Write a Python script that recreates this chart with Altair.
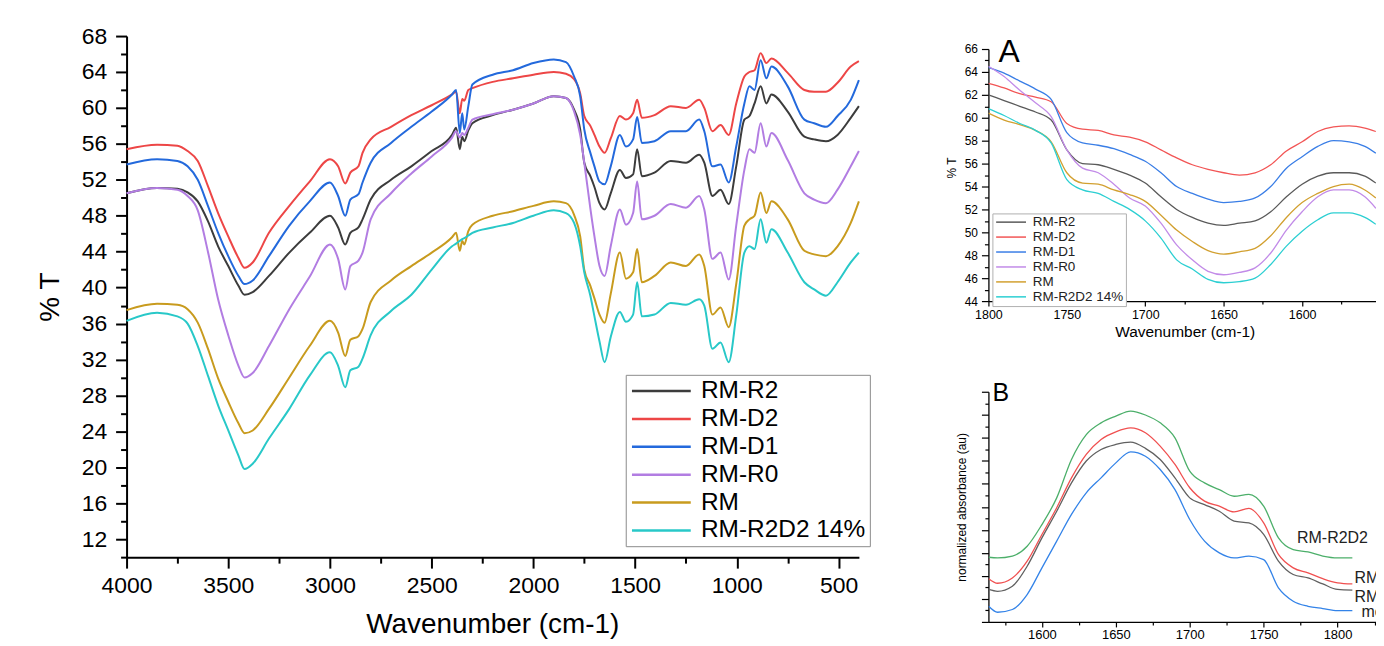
import altair as alt
import pandas as pd

# ---------------- main FTIR spectra ----------------
ORDER = ["RM-R2", "RM-D2", "RM-D1", "RM-R0", "RM", "RM-R2D2 14%"]
COLORS_MAIN = ["#3c3c3c", "#ed4646", "#2369dc", "#b27de2", "#c89b1e", "#28c8c8"]

WN = [4000, 3850, 3750, 3700, 3650, 3600, 3550, 3500, 3450, 3420, 3380, 3300, 3200, 3100,
      3000, 2960, 2925, 2900, 2860, 2840, 2800, 2700, 2600, 2500, 2400, 2380, 2362, 2350,
      2340, 2320, 2300, 2200, 2100, 2000, 1900, 1840, 1800, 1770, 1750, 1720, 1700, 1675,
      1650, 1620, 1575, 1545, 1510, 1490, 1467, 1405, 1325, 1250, 1185, 1160, 1120, 1080,
      1040, 1003, 963, 938, 913, 883, 855, 830, 750, 668, 620, 562, 505, 440, 400]

RM_R2 = [50.5, 51.1, 51.0, 50.6, 49.6, 47.4, 44.6, 42.4, 40.2, 39.2, 39.5, 41.3, 43.9, 46.1,
         48.0, 46.7, 44.8, 46.1, 46.7, 47.6, 49.8, 52.0, 53.5, 55.2, 57.0, 57.8, 55.4, 56.8,
         56.3, 57.5, 58.3, 59.2, 59.8, 60.5, 61.3, 61.1, 59.8, 57.6, 53.9, 52.4, 51.2, 49.4,
         48.7, 50.5, 53.1, 52.2, 52.6, 55.4, 52.4, 52.8, 54.1, 53.9, 54.8, 53.9, 50.2, 50.9,
         49.3, 53.5, 58.7, 59.1, 60.5, 62.4, 60.5, 61.5, 59.6, 56.8, 56.5, 56.3, 57.0, 58.9, 60.2]
RM_D2 = [55.4, 55.9, 55.8, 55.2, 54.1, 51.3, 48.3, 45.7, 43.3, 42.2, 42.8, 46.1, 49.1, 51.8,
         54.3, 53.5, 51.6, 52.8, 53.5, 55.0, 56.5, 57.9, 59.2, 60.3, 61.5, 61.8, 59.4, 61.0,
         60.8, 62.0, 62.2, 62.9, 63.3, 63.7, 64.0, 63.8, 63.2, 61.6, 59.1, 58.0, 57.0, 55.7,
         55.0, 56.6, 59.1, 58.7, 59.4, 60.9, 58.9, 59.2, 60.2, 60.0, 60.9, 60.0, 57.4, 58.1,
         57.0, 60.5, 63.5, 64.0, 64.2, 66.1, 65.0, 65.5, 63.9, 62.0, 61.8, 61.8, 62.8, 64.6, 65.2]
RM_D1 = [53.7, 54.3, 54.1, 53.5, 52.0, 49.1, 46.1, 43.5, 41.3, 40.4, 40.8, 43.5, 46.9, 49.6,
         51.7, 50.2, 48.0, 49.8, 50.4, 51.7, 53.9, 56.1, 57.9, 59.6, 61.5, 62.0, 57.2, 59.4,
         57.6, 60.2, 62.6, 63.7, 64.2, 65.0, 65.4, 65.1, 63.5, 61.3, 57.6, 55.0, 53.5, 51.8,
         51.5, 53.5, 57.0, 55.7, 56.5, 59.0, 56.1, 56.3, 57.4, 57.4, 58.7, 57.4, 53.5, 53.7,
         51.7, 55.7, 60.5, 62.4, 62.0, 65.3, 63.3, 64.6, 62.4, 58.7, 58.3, 57.9, 59.1, 60.9, 63.1]
RM_R0 = [50.5, 51.1, 50.9, 50.2, 48.6, 44.0, 38.7, 34.7, 31.3, 30.0, 30.5, 33.5, 37.6, 41.2,
         44.8, 43.2, 39.8, 42.4, 43.0, 43.9, 47.6, 50.5, 52.7, 54.6, 56.7, 57.4, 56.7, 57.2,
         57.0, 57.8, 58.7, 59.3, 59.8, 60.5, 61.3, 61.1, 59.6, 57.0, 53.9, 48.8, 45.7, 42.4,
         41.3, 44.6, 48.7, 47.0, 48.3, 51.8, 47.6, 48.0, 49.3, 48.9, 50.2, 48.7, 43.2, 43.9,
         40.9, 46.9, 53.1, 55.4, 55.0, 58.3, 55.7, 57.2, 54.2, 50.5, 49.8, 49.4, 50.9, 53.5, 55.2]
RM = [37.5, 38.2, 38.1, 37.6, 36.1, 33.2, 29.9, 27.3, 24.9, 23.8, 24.1, 26.5, 30.0, 33.5,
      36.3, 35.0, 32.4, 34.2, 34.6, 35.4, 38.4, 40.8, 42.4, 43.9, 45.6, 46.1, 44.1, 45.2,
      44.8, 46.3, 47.0, 48.0, 48.5, 49.1, 49.6, 49.4, 48.1, 45.7, 42.0, 40.2, 38.8, 37.0,
      36.1, 39.3, 43.9, 41.0, 41.7, 44.3, 40.6, 41.3, 42.8, 42.4, 43.7, 42.4, 37.0, 37.8,
      35.6, 40.4, 46.9, 47.6, 48.0, 50.6, 48.3, 49.6, 47.6, 44.1, 43.7, 43.5, 44.6, 47.2, 49.6]
RM_R2D2 = [36.3, 37.2, 36.8, 36.0, 33.5, 30.2, 26.9, 24.1, 21.3, 19.8, 20.4, 23.2, 26.5, 30.2,
           32.8, 31.3, 28.9, 30.8, 31.2, 32.1, 34.7, 37.4, 39.2, 42.0, 44.6, 44.9, 45.2, 45.4,
           45.5, 45.8, 46.1, 46.7, 47.2, 48.0, 48.6, 48.3, 47.2, 44.6, 41.7, 39.1, 36.8, 34.0,
           31.7, 34.5, 37.3, 36.2, 37.0, 40.6, 36.8, 37.0, 38.3, 38.1, 38.7, 38.0, 33.2, 33.9,
           31.7, 36.9, 43.9, 44.6, 44.3, 47.6, 45.0, 46.5, 43.9, 40.6, 39.8, 39.1, 40.6, 42.8, 43.9]

# ---------------- inset A (1800-1550 cm-1) ----------------
COLORS_A = ["#5a5a5a", "#f25555", "#3a7ee6", "#c28be8", "#d2a030", "#2ccfd2"]
WN_A = [1800, 1790, 1780, 1770, 1760, 1750, 1740, 1730, 1720, 1710, 1700, 1690, 1680,
        1670, 1660, 1650, 1640, 1630, 1620, 1610, 1600, 1590, 1580, 1570, 1560, 1553]
A_R2 = [62.0, 61.5, 61.0, 60.5, 59.8, 57.2, 56.0, 55.9, 55.5, 55.0, 54.3, 53.1, 52.0,
        51.3, 50.8, 50.6, 50.8, 51.0, 51.8, 53.1, 54.2, 54.9, 55.2, 55.2, 54.9, 54.3]
A_D2 = [63.0, 62.6, 62.1, 61.8, 61.4, 59.5, 59.0, 58.9, 58.5, 58.3, 57.9, 57.2, 56.5,
        55.9, 55.5, 55.2, 55.0, 55.2, 55.9, 57.1, 57.9, 58.8, 59.2, 59.3, 59.1, 58.8]
A_D1 = [64.4, 63.9, 63.2, 62.5, 61.6, 58.7, 57.8, 57.6, 57.3, 56.8, 56.2, 55.2, 54.0,
        53.4, 52.9, 52.6, 52.7, 53.0, 54.0, 55.6, 56.6, 57.5, 58.0, 57.9, 57.5, 56.9]
A_R0 = [64.5, 63.6, 62.4, 61.3, 60.1, 57.2, 55.6, 55.2, 54.2, 53.0, 52.3, 50.8, 48.9,
        47.6, 46.6, 46.3, 46.5, 46.9, 48.2, 50.2, 51.8, 53.1, 53.7, 53.7, 53.1, 52.1]
A_RM = [60.4, 59.8, 59.4, 58.9, 57.9, 55.2, 54.3, 54.2, 53.7, 53.3, 52.7, 51.5, 50.2,
        49.2, 48.4, 48.1, 48.3, 48.6, 49.7, 51.3, 52.6, 53.4, 54.0, 54.2, 53.7, 53.0]
A_R2D2 = [60.8, 60.2, 59.5, 58.9, 57.8, 54.6, 53.7, 53.4, 52.7, 52.0, 51.0, 49.5, 47.6,
          46.8, 45.9, 45.6, 45.7, 46.0, 47.2, 48.8, 50.1, 51.1, 51.7, 51.7, 51.3, 50.7]

# ---------------- inset B (normalized absorbance) ----------------
CURVES_B = ["RM-R2D2", "RM-D2", "RM-R2", "mo"]
COLORS_B = ["#4caf6a", "#f05050", "#606060", "#3383e8"]
WN_B = [1564, 1570, 1580, 1590, 1600, 1610, 1620, 1630, 1640, 1650, 1660, 1670, 1680,
        1690, 1700, 1710, 1720, 1730, 1740, 1750, 1760, 1770, 1780, 1790, 1800, 1810]
B_R2D2 = [2.81, 2.78, 2.86, 3.29, 4.23, 5.39, 7.06, 8.14, 8.65, 8.94, 9.16, 8.99, 8.65,
          8.00, 6.55, 6.04, 5.75, 5.46, 5.54, 5.03, 3.65, 3.14, 3.04, 2.86, 2.78, 2.78]
B_D2 = [1.88, 1.68, 1.91, 2.64, 3.80, 4.96, 6.26, 7.28, 7.93, 8.26, 8.43, 8.22, 7.64,
        6.84, 5.83, 5.25, 5.03, 4.78, 4.93, 4.30, 2.93, 2.35, 2.13, 1.88, 1.70, 1.65]
B_R2 = [1.41, 1.33, 1.55, 2.42, 3.65, 4.81, 6.04, 6.99, 7.49, 7.71, 7.81, 7.54, 7.06,
        6.26, 5.39, 5.10, 4.81, 4.38, 4.30, 3.80, 2.64, 2.06, 1.91, 1.65, 1.41, 1.38]
B_M = [0.68, 0.42, 0.54, 1.19, 2.35, 3.51, 4.67, 5.61, 6.26, 6.91, 7.39, 7.20, 6.62,
       5.75, 4.45, 3.51, 3.00, 2.78, 2.86, 2.71, 1.48, 0.90, 0.68, 0.58, 0.49, 0.49]
LABEL_B_TEXT = ["RM-R2D2", "RM-D2", "RM-R2", "mo"]
LABEL_B_X = [1772.6, 1811.5, 1811.5, 1816.2]
LABEL_B_Y = [3.65, 1.91, 1.09, 0.42]

FONT = "Liberation Sans"


def long_df(x, series, names, xname, yname, cname):
    rows = []
    for name, vals in zip(names, series):
        for w, v in zip(x, vals):
            rows.append({xname: w, yname: v, cname: name})
    return pd.DataFrame(rows)


main_df = long_df(WN, [RM_R2, RM_D2, RM_D1, RM_R0, RM, RM_R2D2], ORDER, "wn", "T", "sample")
a_df = long_df(WN_A, [A_R2, A_D2, A_D1, A_R0, A_RM, A_R2D2], ORDER, "wn", "T", "sample")
b_df = long_df(WN_B, [B_R2D2, B_D2, B_R2, B_M], CURVES_B, "wn", "A", "curve")
blab_df = pd.DataFrame({"wn": LABEL_B_X, "A": LABEL_B_Y, "txt": LABEL_B_TEXT})

# ---------------- main chart ----------------
main = alt.Chart(main_df).mark_line(strokeWidth=2, interpolate="monotone").encode(
    x=alt.X("wn:Q",
            scale=alt.Scale(domain=[400, 4000], reverse=True, nice=False, zero=False),
            axis=alt.Axis(values=list(range(500, 4001, 250)), format="d",
                          labelExpr="datum.value % 500 === 0 ? datum.label : ''",
                          tickSize={"condition": {"test": "datum.value % 500 === 0", "value": 11}, "value": 6},
                          tickWidth=2, domainWidth=2, labelFontSize=23, labelPadding=6,
                          labelFlush=False, labelOverlap=False, grid=False,
                          title="Wavenumber (cm-1)", titleFontSize=28, titleFontWeight="normal",
                          titleX=367, titleY=76, titleBaseline="alphabetic")),
    y=alt.Y("T:Q",
            scale=alt.Scale(domain=[10, 68], nice=False, zero=False),
            axis=alt.Axis(values=list(range(10, 69, 2)), format="d",
                          labelExpr="datum.value % 4 === 0 && datum.value >= 12 ? datum.label : ''",
                          tickSize={"condition": {"test": "datum.value % 4 === 0", "value": 11}, "value": 6},
                          tickWidth=2, domainWidth=2, labelFontSize=23, labelPadding=9,
                          labelFlush=False, labelOverlap=False, grid=False,
                          title="% T", titleFontSize=28, titleFontWeight="normal",
                          titleX=-68, titleY=261.5, titleBaseline="alphabetic")),
    color=alt.Color("sample:N", sort=ORDER,
                    scale=alt.Scale(domain=ORDER, range=COLORS_MAIN),
                    legend=alt.Legend(orient="none", legendX=501, legendY=340, title=None,
                                      symbolType="M-1,0H4.9", symbolSize=400, symbolStrokeWidth=2.5,
                                      labelFontSize=24.5, labelOffset=47, rowPadding=3, padding=4,
                                      strokeColor="#8c8c8c", fillColor="white", labelLimit=400,
                                      labelColor="black", labelFont=FONT)),
).properties(width=735, height=523)

# ---------------- inset A ----------------
a_lines = alt.Chart(a_df).mark_line(strokeWidth=1.3, interpolate="monotone", clip=True).encode(
    x=alt.X("wn:Q",
            scale=alt.Scale(domain=[1552.9, 1800], reverse=True, nice=False, zero=False),
            axis=alt.Axis(values=list(range(1575, 1801, 25)), format="d",
                          labelExpr="datum.value % 50 === 0 ? datum.label : ''",
                          tickSize={"condition": {"test": "datum.value % 50 === 0", "value": 5}, "value": 3},
                          tickWidth=1.2, domainWidth=1.3, labelFontSize=12.5, labelPadding=2,
                          labelFlush=False, labelOverlap=False, grid=False,
                          title="Wavenumber (cm-1)", titleFontSize=15.5, titleFontWeight="normal",
                          titleX=197, titleY=36, titleBaseline="alphabetic")),
    y=alt.Y("T:Q",
            scale=alt.Scale(domain=[44, 66], range=[266, 13], nice=False, zero=False),
            axis=alt.Axis(values=list(range(44, 67)), format="d",
                          labelExpr="datum.value % 2 === 0 ? datum.label : ''",
                          tickSize={"condition": {"test": "datum.value % 2 === 0", "value": 7}, "value": 4},
                          tickWidth=1.2, domainWidth=1.3, labelFontSize=12, labelPadding=4,
                          labelFlush=False, labelOverlap=False, grid=False,
                          title="% T", titleFontSize=12, titleFontWeight="normal",
                          titleX=-33, titleY=132, titleBaseline="alphabetic")),
    color=alt.Color("sample:N", sort=ORDER,
                    scale=alt.Scale(domain=ORDER, range=COLORS_A),
                    legend=alt.Legend(orient="none", legendX=4, legendY=178, title=None,
                                      symbolType="M-1,0H5", symbolSize=100, symbolStrokeWidth=1.5,
                                      labelFontSize=13.5, labelOffset=25, rowPadding=0, padding=2,
                                      strokeColor="#b0b0b0", fillColor="white", labelLimit=300,
                                      labelColor="#222222", labelFont=FONT)),
).properties(width=389, height=266)

a_letter = alt.Chart(pd.DataFrame({"t": ["A"]})).mark_text(
    align="left", baseline="alphabetic", fontSize=32, font=FONT, color="black"
).encode(x=alt.value(10), y=alt.value(26), text="t:N")

panel_a = alt.layer(a_lines, a_letter).properties(width=389, height=266)

# ---------------- inset B ----------------
B_X_AXIS = alt.Axis(values=list(range(1575, 1826, 25)), format="d",
                    labelExpr="datum.value % 50 === 0 ? datum.label : ''",
                    tickSize={"condition": {"test": "datum.value % 50 === 0", "value": 5}, "value": 3},
                    tickWidth=1.2, domainWidth=1.3, labelFontSize=13, labelPadding=2,
                    labelFlush=False, labelOverlap=False, grid=False, title="")
B_Y_AXIS = alt.Axis(values=[i * 0.5 for i in range(21)], labels=False, grid=False,
                    tickSize={"condition": {"test": "datum.value % 1 === 0", "value": 7}, "value": 3.5},
                    tickWidth=1.2, domainWidth=1.3,
                    title="normalized absorbance (au)", titleFontSize=12,
                    titleFontWeight="normal", titleX=-22.5, titleY=115.5,
                    titleBaseline="alphabetic")
B_X_SCALE = alt.Scale(domain=[1563.8, 1826], nice=False, zero=False)
B_Y_SCALE = alt.Scale(domain=[0, 10], nice=False, zero=False)

b_lines = alt.Chart(b_df).mark_line(strokeWidth=1.3, interpolate="monotone", clip=True).encode(
    x=alt.X("wn:Q", scale=B_X_SCALE, axis=B_X_AXIS),
    y=alt.Y("A:Q", scale=B_Y_SCALE, axis=B_Y_AXIS),
    color=alt.Color("curve:N", scale=alt.Scale(domain=CURVES_B, range=COLORS_B), legend=None),
)

b_labels = alt.Chart(blab_df).mark_text(
    align="left", baseline="middle", fontSize=16, font=FONT, color="#222222", clip=True
).encode(x=alt.X("wn:Q", scale=B_X_SCALE, axis=B_X_AXIS),
         y=alt.Y("A:Q", scale=B_Y_SCALE, axis=B_Y_AXIS),
         text="txt:N")

b_letter = alt.Chart(pd.DataFrame({"t": ["B"]})).mark_text(
    align="left", baseline="alphabetic", fontSize=25, font=FONT, color="black"
).encode(x=alt.value(4), y=alt.value(9), text="t:N")

panel_b = alt.layer(b_lines, b_labels, b_letter).properties(width=389, height=231)

right = alt.vconcat(panel_a, panel_b, spacing=91, bounds="flush").resolve_scale(
    color="independent").resolve_legend(color="independent")

chart = alt.hconcat(main, right, spacing=130, bounds="flush").resolve_scale(
    color="independent").resolve_legend(color="independent").properties(
    padding={"left": 29, "top": 16, "right": 0, "bottom": 0}
).configure(font=FONT, background="white").configure_view(stroke=None).configure_axis(
    grid=False, domainColor="black", tickColor="black", labelColor="black",
    titleColor="black", labelFont=FONT, titleFont=FONT
)

chart.save("out.html", embed_options={"renderer": "svg", "actions": False})
